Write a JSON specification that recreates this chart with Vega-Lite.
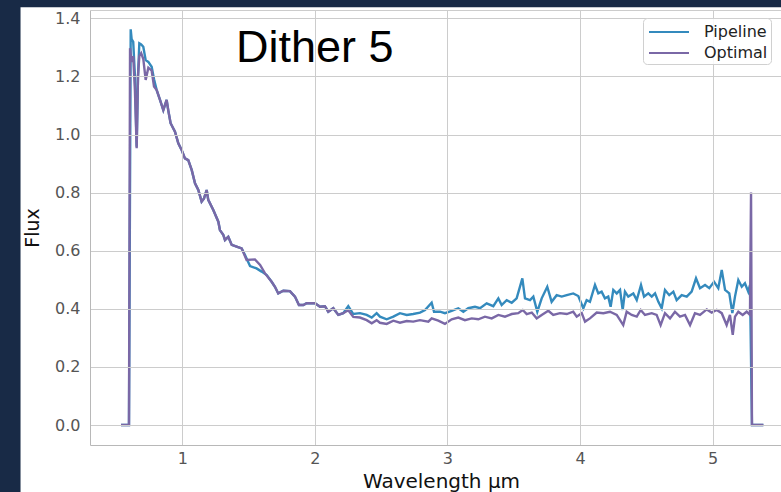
{
  "$schema": "https://vega.github.io/schema/vega-lite/v6.json",
  "width": 691,
  "height": 435,
  "autosize": "none",
  "padding": {"left": 90, "top": 10, "right": 0, "bottom": 47},
  "background": "#182a46",
  "config": {
    "axis": {"labelFont": "DejaVu Sans", "labelFontSize": 16, "labelColor": "#555555", "titleFont": "DejaVu Sans", "titleFontWeight": "normal", "titleColor": "#111111", "gridColor": "#cccccc", "gridWidth": 1, "domainColor": "#b8b8b8", "ticks": false},
    "legend": {"labelFont": "DejaVu Sans"}
  },
  "datasets": {
    "spec": [
      {"w":0.538,"f":0,"s":"Pipeline"},{"w":0.598,"f":0,"s":"Pipeline"},{"w":0.611,"f":1.362,"s":"Pipeline"},{"w":0.618,"f":1.328,"s":"Pipeline"},{"w":0.63,"f":1.319,"s":"Pipeline"},{"w":0.643,"f":1.2,"s":"Pipeline"},{"w":0.656,"f":0.958,"s":"Pipeline"},{"w":0.666,"f":1.2,"s":"Pipeline"},{"w":0.676,"f":1.314,"s":"Pipeline"},{"w":0.69,"f":1.31,"s":"Pipeline"},{"w":0.706,"f":1.302,"s":"Pipeline"},{"w":0.724,"f":1.256,"s":"Pipeline"},{"w":0.744,"f":1.25,"s":"Pipeline"},{"w":0.769,"f":1.233,"s":"Pipeline"},{"w":0.787,"f":1.19,"s":"Pipeline"},{"w":0.807,"f":1.153,"s":"Pipeline"},{"w":0.832,"f":1.119,"s":"Pipeline"},{"w":0.857,"f":1.084,"s":"Pipeline"},{"w":0.882,"f":1.119,"s":"Pipeline"},{"w":0.894,"f":1.084,"s":"Pipeline"},{"w":0.912,"f":1.039,"s":"Pipeline"},{"w":0.945,"f":1.01,"s":"Pipeline"},{"w":0.97,"f":0.97,"s":"Pipeline"},{"w":0.995,"f":0.947,"s":"Pipeline"},{"w":1.02,"f":0.918,"s":"Pipeline"},{"w":1.045,"f":0.912,"s":"Pipeline"},{"w":1.071,"f":0.878,"s":"Pipeline"},{"w":1.096,"f":0.832,"s":"Pipeline"},{"w":1.121,"f":0.809,"s":"Pipeline"},{"w":1.146,"f":0.769,"s":"Pipeline"},{"w":1.164,"f":0.78,"s":"Pipeline"},{"w":1.184,"f":0.809,"s":"Pipeline"},{"w":1.196,"f":0.775,"s":"Pipeline"},{"w":1.234,"f":0.74,"s":"Pipeline"},{"w":1.272,"f":0.7,"s":"Pipeline"},{"w":1.284,"f":0.671,"s":"Pipeline"},{"w":1.309,"f":0.655,"s":"Pipeline"},{"w":1.322,"f":0.637,"s":"Pipeline"},{"w":1.347,"f":0.648,"s":"Pipeline"},{"w":1.373,"f":0.62,"s":"Pipeline"},{"w":1.41,"f":0.614,"s":"Pipeline"},{"w":1.448,"f":0.608,"s":"Pipeline"},{"w":1.473,"f":0.585,"s":"Pipeline"},{"w":1.511,"f":0.547,"s":"Pipeline"},{"w":1.56,"f":0.539,"s":"Pipeline"},{"w":1.599,"f":0.528,"s":"Pipeline"},{"w":1.637,"f":0.516,"s":"Pipeline"},{"w":1.674,"f":0.493,"s":"Pipeline"},{"w":1.699,"f":0.476,"s":"Pipeline"},{"w":1.724,"f":0.453,"s":"Pipeline"},{"w":1.762,"f":0.462,"s":"Pipeline"},{"w":1.812,"f":0.461,"s":"Pipeline"},{"w":1.85,"f":0.442,"s":"Pipeline"},{"w":1.88,"f":0.413,"s":"Pipeline"},{"w":1.913,"f":0.413,"s":"Pipeline"},{"w":1.938,"f":0.419,"s":"Pipeline"},{"w":2.001,"f":0.419,"s":"Pipeline"},{"w":2.039,"f":0.407,"s":"Pipeline"},{"w":2.076,"f":0.409,"s":"Pipeline"},{"w":2.101,"f":0.39,"s":"Pipeline"},{"w":2.139,"f":0.402,"s":"Pipeline"},{"w":2.177,"f":0.379,"s":"Pipeline"},{"w":2.214,"f":0.385,"s":"Pipeline"},{"w":2.252,"f":0.409,"s":"Pipeline"},{"w":2.29,"f":0.382,"s":"Pipeline"},{"w":2.34,"f":0.385,"s":"Pipeline"},{"w":2.391,"f":0.379,"s":"Pipeline"},{"w":2.429,"f":0.37,"s":"Pipeline"},{"w":2.466,"f":0.385,"s":"Pipeline"},{"w":2.491,"f":0.373,"s":"Pipeline"},{"w":2.542,"f":0.364,"s":"Pipeline"},{"w":2.592,"f":0.373,"s":"Pipeline"},{"w":2.642,"f":0.385,"s":"Pipeline"},{"w":2.693,"f":0.379,"s":"Pipeline"},{"w":2.742,"f":0.382,"s":"Pipeline"},{"w":2.793,"f":0.387,"s":"Pipeline"},{"w":2.831,"f":0.396,"s":"Pipeline"},{"w":2.881,"f":0.421,"s":"Pipeline"},{"w":2.899,"f":0.39,"s":"Pipeline"},{"w":2.944,"f":0.39,"s":"Pipeline"},{"w":2.981,"f":0.385,"s":"Pipeline"},{"w":3.032,"f":0.393,"s":"Pipeline"},{"w":3.082,"f":0.402,"s":"Pipeline"},{"w":3.12,"f":0.39,"s":"Pipeline"},{"w":3.157,"f":0.402,"s":"Pipeline"},{"w":3.208,"f":0.407,"s":"Pipeline"},{"w":3.246,"f":0.402,"s":"Pipeline"},{"w":3.296,"f":0.419,"s":"Pipeline"},{"w":3.346,"f":0.409,"s":"Pipeline"},{"w":3.384,"f":0.436,"s":"Pipeline"},{"w":3.409,"f":0.413,"s":"Pipeline"},{"w":3.447,"f":0.43,"s":"Pipeline"},{"w":3.485,"f":0.421,"s":"Pipeline"},{"w":3.522,"f":0.436,"s":"Pipeline"},{"w":3.565,"f":0.505,"s":"Pipeline"},{"w":3.585,"f":0.436,"s":"Pipeline"},{"w":3.623,"f":0.43,"s":"Pipeline"},{"w":3.648,"f":0.442,"s":"Pipeline"},{"w":3.678,"f":0.39,"s":"Pipeline"},{"w":3.711,"f":0.436,"s":"Pipeline"},{"w":3.753,"f":0.476,"s":"Pipeline"},{"w":3.786,"f":0.424,"s":"Pipeline"},{"w":3.824,"f":0.447,"s":"Pipeline"},{"w":3.862,"f":0.442,"s":"Pipeline"},{"w":3.9,"f":0.447,"s":"Pipeline"},{"w":3.949,"f":0.453,"s":"Pipeline"},{"w":3.987,"f":0.444,"s":"Pipeline"},{"w":4.025,"f":0.402,"s":"Pipeline"},{"w":4.05,"f":0.43,"s":"Pipeline"},{"w":4.075,"f":0.424,"s":"Pipeline"},{"w":4.113,"f":0.482,"s":"Pipeline"},{"w":4.138,"f":0.453,"s":"Pipeline"},{"w":4.163,"f":0.459,"s":"Pipeline"},{"w":4.188,"f":0.436,"s":"Pipeline"},{"w":4.213,"f":0.442,"s":"Pipeline"},{"w":4.231,"f":0.407,"s":"Pipeline"},{"w":4.251,"f":0.465,"s":"Pipeline"},{"w":4.277,"f":0.453,"s":"Pipeline"},{"w":4.302,"f":0.465,"s":"Pipeline"},{"w":4.322,"f":0.396,"s":"Pipeline"},{"w":4.339,"f":0.459,"s":"Pipeline"},{"w":4.364,"f":0.442,"s":"Pipeline"},{"w":4.402,"f":0.453,"s":"Pipeline"},{"w":4.428,"f":0.43,"s":"Pipeline"},{"w":4.46,"f":0.482,"s":"Pipeline"},{"w":4.483,"f":0.442,"s":"Pipeline"},{"w":4.515,"f":0.453,"s":"Pipeline"},{"w":4.541,"f":0.442,"s":"Pipeline"},{"w":4.566,"f":0.453,"s":"Pipeline"},{"w":4.591,"f":0.424,"s":"Pipeline"},{"w":4.616,"f":0.402,"s":"Pipeline"},{"w":4.641,"f":0.465,"s":"Pipeline"},{"w":4.673,"f":0.447,"s":"Pipeline"},{"w":4.704,"f":0.459,"s":"Pipeline"},{"w":4.729,"f":0.43,"s":"Pipeline"},{"w":4.767,"f":0.447,"s":"Pipeline"},{"w":4.805,"f":0.442,"s":"Pipeline"},{"w":4.842,"f":0.459,"s":"Pipeline"},{"w":4.875,"f":0.505,"s":"Pipeline"},{"w":4.905,"f":0.471,"s":"Pipeline"},{"w":4.943,"f":0.482,"s":"Pipeline"},{"w":4.975,"f":0.471,"s":"Pipeline"},{"w":5.011,"f":0.493,"s":"Pipeline"},{"w":5.043,"f":0.471,"s":"Pipeline"},{"w":5.069,"f":0.534,"s":"Pipeline"},{"w":5.094,"f":0.465,"s":"Pipeline"},{"w":5.126,"f":0.453,"s":"Pipeline"},{"w":5.149,"f":0.385,"s":"Pipeline"},{"w":5.169,"f":0.442,"s":"Pipeline"},{"w":5.194,"f":0.499,"s":"Pipeline"},{"w":5.22,"f":0.476,"s":"Pipeline"},{"w":5.244,"f":0.488,"s":"Pipeline"},{"w":5.269,"f":0.459,"s":"Pipeline"},{"w":5.282,"f":0.482,"s":"Pipeline"},{"w":5.297,"f":0,"s":"Pipeline"},{"w":5.383,"f":0,"s":"Pipeline"},
      {"w":0.538,"f":0,"s":"Optimal"},{"w":0.598,"f":0,"s":"Optimal"},{"w":0.606,"f":1.297,"s":"Optimal"},{"w":0.618,"f":1.25,"s":"Optimal"},{"w":0.63,"f":1.27,"s":"Optimal"},{"w":0.643,"f":1.15,"s":"Optimal"},{"w":0.656,"f":0.953,"s":"Optimal"},{"w":0.666,"f":1.2,"s":"Optimal"},{"w":0.676,"f":1.27,"s":"Optimal"},{"w":0.69,"f":1.28,"s":"Optimal"},{"w":0.706,"f":1.26,"s":"Optimal"},{"w":0.724,"f":1.188,"s":"Optimal"},{"w":0.744,"f":1.23,"s":"Optimal"},{"w":0.769,"f":1.22,"s":"Optimal"},{"w":0.787,"f":1.165,"s":"Optimal"},{"w":0.807,"f":1.153,"s":"Optimal"},{"w":0.832,"f":1.119,"s":"Optimal"},{"w":0.857,"f":1.084,"s":"Optimal"},{"w":0.882,"f":1.119,"s":"Optimal"},{"w":0.894,"f":1.084,"s":"Optimal"},{"w":0.912,"f":1.039,"s":"Optimal"},{"w":0.945,"f":1.01,"s":"Optimal"},{"w":0.97,"f":0.97,"s":"Optimal"},{"w":0.995,"f":0.947,"s":"Optimal"},{"w":1.02,"f":0.918,"s":"Optimal"},{"w":1.045,"f":0.912,"s":"Optimal"},{"w":1.071,"f":0.878,"s":"Optimal"},{"w":1.096,"f":0.832,"s":"Optimal"},{"w":1.121,"f":0.809,"s":"Optimal"},{"w":1.146,"f":0.769,"s":"Optimal"},{"w":1.164,"f":0.78,"s":"Optimal"},{"w":1.184,"f":0.809,"s":"Optimal"},{"w":1.196,"f":0.775,"s":"Optimal"},{"w":1.234,"f":0.74,"s":"Optimal"},{"w":1.272,"f":0.7,"s":"Optimal"},{"w":1.284,"f":0.671,"s":"Optimal"},{"w":1.309,"f":0.655,"s":"Optimal"},{"w":1.322,"f":0.637,"s":"Optimal"},{"w":1.347,"f":0.648,"s":"Optimal"},{"w":1.373,"f":0.62,"s":"Optimal"},{"w":1.41,"f":0.614,"s":"Optimal"},{"w":1.448,"f":0.608,"s":"Optimal"},{"w":1.485,"f":0.568,"s":"Optimal"},{"w":1.548,"f":0.57,"s":"Optimal"},{"w":1.587,"f":0.551,"s":"Optimal"},{"w":1.624,"f":0.522,"s":"Optimal"},{"w":1.674,"f":0.493,"s":"Optimal"},{"w":1.699,"f":0.476,"s":"Optimal"},{"w":1.724,"f":0.453,"s":"Optimal"},{"w":1.762,"f":0.462,"s":"Optimal"},{"w":1.812,"f":0.461,"s":"Optimal"},{"w":1.85,"f":0.442,"s":"Optimal"},{"w":1.88,"f":0.413,"s":"Optimal"},{"w":1.913,"f":0.413,"s":"Optimal"},{"w":1.938,"f":0.419,"s":"Optimal"},{"w":2.001,"f":0.419,"s":"Optimal"},{"w":2.039,"f":0.407,"s":"Optimal"},{"w":2.076,"f":0.409,"s":"Optimal"},{"w":2.101,"f":0.39,"s":"Optimal"},{"w":2.139,"f":0.402,"s":"Optimal"},{"w":2.177,"f":0.379,"s":"Optimal"},{"w":2.214,"f":0.385,"s":"Optimal"},{"w":2.252,"f":0.395,"s":"Optimal"},{"w":2.29,"f":0.372,"s":"Optimal"},{"w":2.34,"f":0.37,"s":"Optimal"},{"w":2.391,"f":0.361,"s":"Optimal"},{"w":2.429,"f":0.35,"s":"Optimal"},{"w":2.466,"f":0.361,"s":"Optimal"},{"w":2.491,"f":0.352,"s":"Optimal"},{"w":2.542,"f":0.348,"s":"Optimal"},{"w":2.592,"f":0.359,"s":"Optimal"},{"w":2.642,"f":0.352,"s":"Optimal"},{"w":2.693,"f":0.358,"s":"Optimal"},{"w":2.742,"f":0.356,"s":"Optimal"},{"w":2.793,"f":0.361,"s":"Optimal"},{"w":2.856,"f":0.356,"s":"Optimal"},{"w":2.881,"f":0.367,"s":"Optimal"},{"w":2.931,"f":0.359,"s":"Optimal"},{"w":2.981,"f":0.348,"s":"Optimal"},{"w":3.032,"f":0.364,"s":"Optimal"},{"w":3.082,"f":0.37,"s":"Optimal"},{"w":3.132,"f":0.361,"s":"Optimal"},{"w":3.183,"f":0.367,"s":"Optimal"},{"w":3.233,"f":0.364,"s":"Optimal"},{"w":3.283,"f":0.373,"s":"Optimal"},{"w":3.334,"f":0.367,"s":"Optimal"},{"w":3.384,"f":0.379,"s":"Optimal"},{"w":3.434,"f":0.373,"s":"Optimal"},{"w":3.485,"f":0.382,"s":"Optimal"},{"w":3.534,"f":0.385,"s":"Optimal"},{"w":3.568,"f":0.396,"s":"Optimal"},{"w":3.598,"f":0.382,"s":"Optimal"},{"w":3.636,"f":0.387,"s":"Optimal"},{"w":3.673,"f":0.367,"s":"Optimal"},{"w":3.711,"f":0.379,"s":"Optimal"},{"w":3.761,"f":0.393,"s":"Optimal"},{"w":3.798,"f":0.379,"s":"Optimal"},{"w":3.849,"f":0.385,"s":"Optimal"},{"w":3.9,"f":0.382,"s":"Optimal"},{"w":3.949,"f":0.39,"s":"Optimal"},{"w":3.975,"f":0.373,"s":"Optimal"},{"w":4.013,"f":0.385,"s":"Optimal"},{"w":4.038,"f":0.356,"s":"Optimal"},{"w":4.075,"f":0.367,"s":"Optimal"},{"w":4.126,"f":0.387,"s":"Optimal"},{"w":4.176,"f":0.385,"s":"Optimal"},{"w":4.226,"f":0.39,"s":"Optimal"},{"w":4.277,"f":0.379,"s":"Optimal"},{"w":4.326,"f":0.344,"s":"Optimal"},{"w":4.352,"f":0.39,"s":"Optimal"},{"w":4.39,"f":0.379,"s":"Optimal"},{"w":4.428,"f":0.373,"s":"Optimal"},{"w":4.458,"f":0.396,"s":"Optimal"},{"w":4.49,"f":0.379,"s":"Optimal"},{"w":4.541,"f":0.385,"s":"Optimal"},{"w":4.578,"f":0.379,"s":"Optimal"},{"w":4.608,"f":0.344,"s":"Optimal"},{"w":4.641,"f":0.385,"s":"Optimal"},{"w":4.679,"f":0.367,"s":"Optimal"},{"w":4.716,"f":0.39,"s":"Optimal"},{"w":4.754,"f":0.373,"s":"Optimal"},{"w":4.792,"f":0.379,"s":"Optimal"},{"w":4.83,"f":0.344,"s":"Optimal"},{"w":4.867,"f":0.385,"s":"Optimal"},{"w":4.905,"f":0.379,"s":"Optimal"},{"w":4.956,"f":0.398,"s":"Optimal"},{"w":4.993,"f":0.387,"s":"Optimal"},{"w":5.031,"f":0.396,"s":"Optimal"},{"w":5.069,"f":0.385,"s":"Optimal"},{"w":5.106,"f":0.344,"s":"Optimal"},{"w":5.131,"f":0.379,"s":"Optimal"},{"w":5.152,"f":0.31,"s":"Optimal"},{"w":5.169,"f":0.373,"s":"Optimal"},{"w":5.194,"f":0.39,"s":"Optimal"},{"w":5.227,"f":0.379,"s":"Optimal"},{"w":5.257,"f":0.39,"s":"Optimal"},{"w":5.282,"f":0.379,"s":"Optimal"},{"w":5.29,"f":0.8,"s":"Optimal"},{"w":5.297,"f":0,"s":"Optimal"},{"w":5.383,"f":0,"s":"Optimal"}
    ]
  },
  "layer": [
    {
      "data": {"values": [{}]},
      "mark": {"type": "rect", "fill": "#ffffff"},
      "encoding": {
        "x": {"datum": -0.22, "type": "quantitative", "scale": {"domain": [0.304, 5.516], "nice": false, "zero": false}},
        "x2": {"datum": 7},
        "y": {"datum": 1.438, "type": "quantitative", "scale": {"domain": [-0.0688, 1.4286], "nice": false, "zero": false}},
        "y2": {"datum": -0.6}
      }
    },
    {
      "data": {"name": "spec"},
      "mark": {"type": "line", "strokeWidth": 2.4, "clip": true},
      "encoding": {
        "x": {"field": "w", "type": "quantitative", "scale": {"domain": [0.304, 5.516], "nice": false, "zero": false},
          "axis": {"zindex": 1, "title": "Wavelength µm", "values": [1, 2, 3, 4, 5], "format": "d", "grid": true, "domain": true, "labelPadding": 5, "titleFontSize": 20, "titleX": 351, "titleY": 42, "titleBaseline": "alphabetic"}},
        "y": {"field": "f", "type": "quantitative", "scale": {"domain": [-0.0688, 1.4286], "nice": false, "zero": false},
          "axis": {"zindex": 1, "title": "Flux", "values": [0, 0.2, 0.4, 0.6, 0.8, 1.0, 1.2, 1.4, 1.4286], "labelExpr": "datum.value > 1.41 ? '' : format(datum.value, '.1f')", "grid": true, "domain": true, "labelPadding": 10, "titleFontSize": 19, "titleX": -52, "titleY": 217.5, "titleAngle": 270, "titleBaseline": "alphabetic"}},
        "color": {"field": "s", "type": "nominal", "sort": ["Pipeline", "Optimal"],
          "scale": {"domain": ["Pipeline", "Optimal"], "range": ["#348ABD", "#7A68A6"]},
          "legend": {"title": null, "orient": "none", "legendX": 553, "legendY": 8, "zindex": 2, "fillColor": "rgba(255,255,255,0.85)", "strokeColor": "#d0d0d0", "cornerRadius": 4, "padding": 3, "symbolType": "M-2,0H2", "symbolSize": 400, "symbolOffset": 12, "symbolStrokeWidth": 2, "labelFontSize": 16, "labelColor": "#222222", "labelOffset": 24, "rowPadding": 2}}
      }
    },
    {
      "data": {"values": [{"label": "Dither 5"}]},
      "mark": {"type": "text", "font": "Liberation Sans", "fontSize": 45, "color": "#000000", "align": "left", "baseline": "alphabetic"},
      "encoding": {
        "x": {"datum": 1.405, "type": "quantitative", "scale": {"domain": [0.304, 5.516], "nice": false, "zero": false}},
        "y": {"datum": 1.2496, "type": "quantitative", "scale": {"domain": [-0.0688, 1.4286], "nice": false, "zero": false}},
        "text": {"field": "label"}
      }
    }
  ]
}
